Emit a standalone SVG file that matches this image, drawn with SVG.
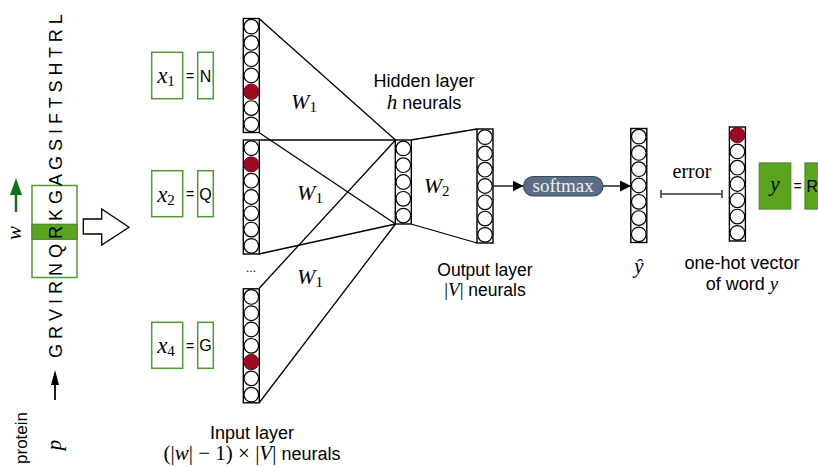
<svg xmlns="http://www.w3.org/2000/svg" width="818" height="467" viewBox="0 0 818 467">
<defs>
<style>
.col{fill:#fff;stroke:#000;stroke-width:1.4}
.neu{fill:#fff;stroke:#000;stroke-width:1.2}
.hot{fill:#9b0a22;stroke:#9b0a22;stroke-width:1}
.ln{stroke:#000;stroke-width:1.3;fill:none}
.sans{font-family:"Liberation Sans",Arial,sans-serif;fill:#000}
.math{font-family:"Liberation Serif","Times New Roman",serif;font-style:italic;fill:#000}
.rm{font-family:"Liberation Serif","Times New Roman",serif;font-style:normal;fill:#000}
.gbox{fill:#fff;stroke:#4e9a2e;stroke-width:1.5}
.gfill{fill:#5ba41f;stroke:#4d8f2a;stroke-width:1.3}
</style>
<g id="col7">
<rect class="col" x="0" y="0" width="16" height="114"/>
<circle class="neu" cx="8" cy="8.14" r="7.3"/>
<circle class="neu" cx="8" cy="24.43" r="7.3"/>
<circle class="neu" cx="8" cy="40.71" r="7.3"/>
<circle class="neu" cx="8" cy="57" r="7.3"/>
<circle class="neu" cx="8" cy="73.29" r="7.3"/>
<circle class="neu" cx="8" cy="89.57" r="7.3"/>
<circle class="neu" cx="8" cy="105.86" r="7.3"/>
</g>
<g id="col5">
<rect class="col" x="0" y="0" width="16" height="84"/>
<circle class="neu" cx="8" cy="8.4" r="7.3"/>
<circle class="neu" cx="8" cy="25.2" r="7.3"/>
<circle class="neu" cx="8" cy="42" r="7.3"/>
<circle class="neu" cx="8" cy="58.8" r="7.3"/>
<circle class="neu" cx="8" cy="75.6" r="7.3"/>
</g>
<marker id="ah" viewBox="0 0 11 11" refX="11" refY="5.5" markerWidth="11" markerHeight="11" markerUnits="userSpaceOnUse" orient="auto">
<path d="M0,0 L11,5.5 L0,11 z" fill="#000"/>
</marker>
</defs>

<!-- protein sequence -->
<g id="protein">
<rect class="gbox" x="32" y="185.5" width="45" height="92"/>
<rect class="gfill" x="32" y="224.3" width="45" height="15"/>
<text class="sans" font-size="18" transform="translate(61.5,358) rotate(-90)">G R V I R N Q R K G A G S I F T S H T R L</text>
<text class="sans" font-size="17" text-anchor="middle" transform="translate(26.5,438) rotate(-90)">protein</text>
<text class="math" font-size="21" text-anchor="middle" transform="translate(61,445) rotate(-90)">p</text>
<text class="math" font-size="21" text-anchor="middle" transform="translate(20.5,233) rotate(-90)">w</text>
<path d="M16,212 L16,192" stroke="#11711a" stroke-width="2.5" fill="none"/>
<path d="M10,195 L16,178 L22,195 z" fill="#11711a"/>
<path d="M55,400 L55,383" stroke="#000" stroke-width="1.8" fill="none"/>
<path d="M51,385 L55,370 L59,385 z" fill="#000"/>
</g>

<g id="bigarrow">
<polygon points="83.3,219 101.7,219 101.7,209 129,227.3 101.7,245 101.7,234 83.3,234" fill="#fff" stroke="#000" stroke-width="1.3"/>
</g>

<!-- input boxes -->
<g id="x1">
<rect class="gbox" x="151.7" y="52.3" width="31" height="46.4"/>
<text class="math" font-size="23" x="166" y="83.3" text-anchor="middle">x<tspan class="rm" font-size="15" dy="3">1</tspan></text>
<text class="sans" font-size="14" x="190" y="81" text-anchor="middle">=</text>
<rect class="gbox" x="197.7" y="52.3" width="15.6" height="46.4"/>
<text class="sans" font-size="16" x="205.5" y="81.5" text-anchor="middle">N</text>
</g>
<g id="x2">
<rect class="gbox" x="151.7" y="170.7" width="31" height="46"/>
<text class="math" font-size="23" x="166" y="201.5" text-anchor="middle">x<tspan class="rm" font-size="15" dy="3">2</tspan></text>
<text class="sans" font-size="14" x="190" y="199" text-anchor="middle">=</text>
<rect class="gbox" x="197.7" y="170.7" width="15.6" height="46"/>
<text class="sans" font-size="16" x="205.5" y="199.5" text-anchor="middle">Q</text>
</g>
<g id="x4">
<rect class="gbox" x="151.7" y="322.3" width="31" height="46"/>
<text class="math" font-size="23" x="166" y="353" text-anchor="middle">x<tspan class="rm" font-size="15" dy="3">4</tspan></text>
<text class="sans" font-size="14" x="190" y="350.5" text-anchor="middle">=</text>
<rect class="gbox" x="197.7" y="322.3" width="15.6" height="46"/>
<text class="sans" font-size="16" x="205.5" y="351" text-anchor="middle">G</text>
</g>

<!-- connectors -->
<g id="connectors">
<line class="ln" x1="259" y1="18.5" x2="395.5" y2="140"/>
<line class="ln" x1="259" y1="132.5" x2="395.5" y2="224"/>
<line class="ln" x1="259" y1="140" x2="395.5" y2="140"/>
<line class="ln" x1="259" y1="254" x2="395.5" y2="224"/>
<line class="ln" x1="259" y1="288.5" x2="395.5" y2="140"/>
<line class="ln" x1="259" y1="403" x2="395.5" y2="224"/>
<line class="ln" x1="411" y1="140" x2="477" y2="129"/>
<line class="ln" x1="411" y1="224" x2="477" y2="243"/>
<line class="ln" x1="493" y1="186" x2="523.5" y2="186" marker-end="url(#ah)"/>
<line class="ln" x1="603" y1="186" x2="631" y2="186" marker-end="url(#ah)"/>
<path d="M661,194 L722,194 M661,190 L661,198 M722,190 L722,198" stroke="#333" stroke-width="1.5" fill="none"/>
</g>

<!-- input columns -->
<g id="in1">
<use href="#col7" x="243.3" y="18.5"/>
<circle class="hot" cx="251.3" cy="91.4" r="7.3"/>
</g>
<g id="in2">
<use href="#col7" x="243.3" y="140"/>
<circle class="hot" cx="251.3" cy="164.4" r="7.3"/>
</g>
<text class="sans" font-size="12" x="251" y="272" text-anchor="middle">...</text>
<g id="in4">
<use href="#col7" x="243.3" y="288.8"/>
<circle class="hot" cx="251.3" cy="361.7" r="7.3"/>
</g>

<text class="math" font-size="22" x="304" y="108.5" text-anchor="middle">W<tspan class="rm" font-size="15" dy="3">1</tspan></text>
<text class="math" font-size="22" x="310" y="200" text-anchor="middle">W<tspan class="rm" font-size="15" dy="3">1</tspan></text>
<text class="math" font-size="22" x="310" y="284" text-anchor="middle">W<tspan class="rm" font-size="15" dy="3">1</tspan></text>
<text class="math" font-size="22" x="436.7" y="193" text-anchor="middle">W<tspan class="rm" font-size="15" dy="3">2</tspan></text>

<g id="hidden">
<use href="#col5" x="395.3" y="140"/>
</g>
<g id="output">
<use href="#col7" x="477" y="129"/>
</g>

<g id="softmax">
<rect x="523.5" y="176.5" width="79.5" height="19.5" rx="9.75" fill="#5b6e85" stroke="#3a4a5e" stroke-width="1.2"/>
<text font-family="Liberation Serif, serif" font-size="19" x="563.2" y="191.5" text-anchor="middle" fill="#eef0f3">softmax</text>
</g>

<g id="yhat">
<use href="#col7" x="630.8" y="128.5"/>
<text class="math" font-size="21" x="639" y="273" text-anchor="middle">ŷ</text>
</g>

<text class="rm" font-size="20" x="692" y="178.3" text-anchor="middle">error</text>

<g id="onehot">
<use href="#col7" x="729.4" y="127"/>
<circle class="hot" cx="737.4" cy="135.1" r="7.3"/>
</g>

<g id="ybox">
<rect class="gfill" x="759.3" y="163" width="31.4" height="46"/>
<text class="math" font-size="21" x="775" y="191" text-anchor="middle">y</text>
<text class="sans" font-size="14" x="797.7" y="191" text-anchor="middle">=</text>
<rect class="gfill" x="805" y="163" width="30" height="46"/>
<text class="sans" font-size="16" x="806.5" y="191.7">R</text>
</g>

<!-- labels -->
<text class="sans" font-size="18" x="424" y="87" text-anchor="middle">Hidden layer</text>
<text class="sans" font-size="18" x="424" y="108.5" text-anchor="middle"><tspan class="math" font-size="21">h</tspan> neurals</text>
<text class="sans" font-size="17.5" x="485" y="276" text-anchor="middle">Output layer</text>
<text class="sans" font-size="17.5" x="485" y="296" text-anchor="middle"><tspan class="rm" font-size="19">|</tspan><tspan class="math" font-size="19">V</tspan><tspan class="rm" font-size="19">|</tspan> neurals</text>
<text class="sans" font-size="18" x="252" y="439" text-anchor="middle">Input layer</text>
<text class="sans" font-size="18" x="252" y="460" text-anchor="middle"><tspan class="rm" font-size="21">(|</tspan><tspan class="math" font-size="21">w</tspan><tspan class="rm" font-size="21">| − 1) × |</tspan><tspan class="math" font-size="21">V</tspan><tspan class="rm" font-size="21">|</tspan> neurals</text>
<text class="sans" font-size="18" x="742" y="268.5" text-anchor="middle">one-hot vector</text>
<text class="sans" font-size="18" x="742" y="290" text-anchor="middle">of word <tspan class="math" font-size="19">y</tspan></text>
</svg>
